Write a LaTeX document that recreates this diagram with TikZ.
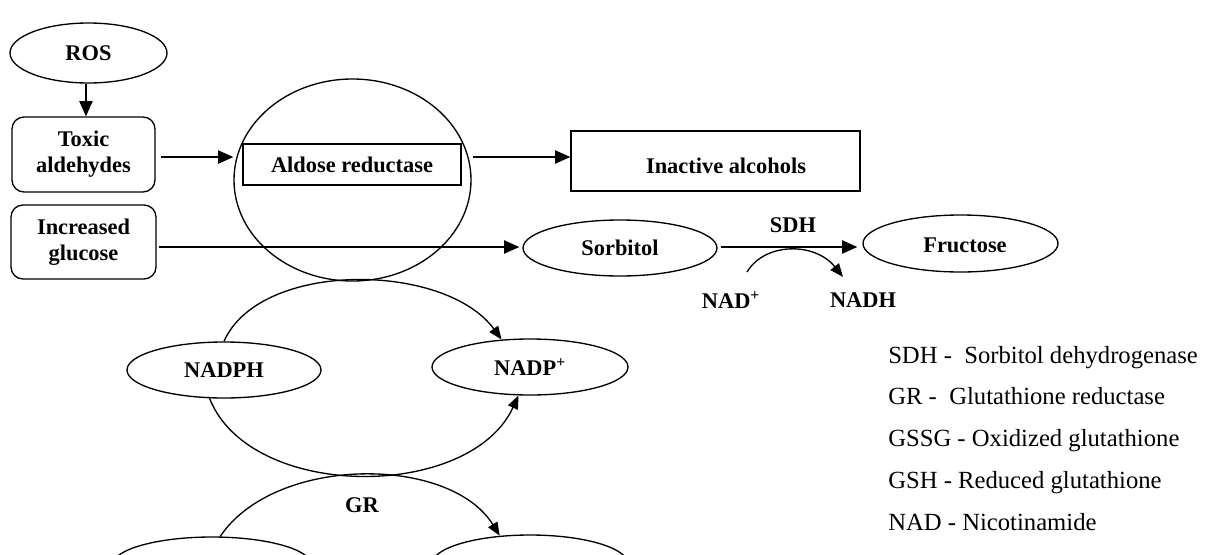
\documentclass[tikz,border=0pt]{standalone}
\usepackage{fontspec}
\setmainfont{Liberation Serif}
\usetikzlibrary{shapes.geometric,arrows.meta}
\begin{document}
\begin{tikzpicture}[x=0.75pt,y=-0.75pt,
  ln/.style={line width=1pt},
  lbl/.style={font=\fontsize{16.8}{19.5}\selectfont\bfseries, inner sep=0pt, align=center},
  leg/.style={font=\fontsize{18.5}{22}\selectfont, inner sep=0pt, anchor=base west},
  ell/.style={ellipse, draw, ln, inner sep=0pt, font=\fontsize{16.8}{19.5}\selectfont\bfseries},
  boxnode/.style={rectangle, draw, ln, inner sep=0pt, align=center, font=\fontsize{16.8}{19.5}\selectfont\bfseries},
  arr/.style={ln, -{Triangle[length=11.5pt,width=10pt]}},
  carr/.style={ln, -{Triangle[length=10pt,width=8pt]}}]
\useasboundingbox (0,0) rectangle (1214,554);
\clip (0,0) rectangle (1214,554);

% nodes
\node[ell, minimum width=117.75pt, minimum height=45pt] (ros) at (88.5,53) {ROS};
\node[boxnode, rounded corners=9pt, minimum width=107.25pt, minimum height=56.25pt] (toxic) at (83.5,154.5) {Toxic\\aldehydes};
\node[boxnode, rounded corners=9pt, minimum width=108.75pt, minimum height=55.5pt] (glucose) at (83.5,242) {Increased\\glucose};
\node[ellipse, draw, ln, inner sep=0pt, minimum width=177.75pt, minimum height=151.5pt] (big) at (352.5,180) {};
\node[boxnode, minimum width=163.5pt, minimum height=30.75pt] (aldose) at (352,164.5) {Aldose reductase};
\node[boxnode, minimum width=216.75pt, minimum height=45pt] (inactive) at (715.5,161) {};
\node[lbl] (inactivetxt) at (726,166) {Inactive alcohols};
\node[ell, minimum width=145.5pt, minimum height=42pt] (sorb) at (620,248) {Sorbitol};
\node[ell, minimum width=146.25pt, minimum height=42.75pt] (fruc) at (960.5,243.5) {};
\node[lbl] (fructxt) at (965,245) {Fructose};
\node[lbl] (sdh) at (793,225) {SDH};
\node[lbl] (nad) at (731,300) {NAD\textsuperscript{+}};
\node[lbl] (nadh) at (863,300) {NADH};
\node[ell, minimum width=145.5pt, minimum height=42pt] (nadph) at (224,370) {NADPH};
\node[ell, minimum width=147pt, minimum height=42pt] (nadp) at (530,367) {NADP\textsuperscript{+}};
\node[ell, minimum width=149.25pt, minimum height=42pt] (gssg) at (212,565) {};
\node[ell, minimum width=147pt, minimum height=43.5pt] (gsh) at (530,564) {};
\node[lbl] (gr) at (362,505) {GR};

\coordinate (nadstart) at (747,272);
\coordinate (nadhend) at (843,277);

% connectors
\draw[arr] ([xshift=-1.9pt]ros.south) -- ([xshift=-1.9pt]ros.south |- toxic.north);
\draw[arr] ([xshift=3.75pt,yshift=-1.9pt]toxic.east) -- ([yshift=-1.9pt]toxic.east -| big.west);
\draw[arr] ([xshift=0.75pt]big.east |- 0,157) -- (inactive.west |- 0,157);
\draw[arr] ([xshift=1.5pt]glucose.east |- 0,247) -- ([xshift=-2.25pt]sorb.west |- 0,247);
\draw[arr] ([xshift=2.25pt]sorb.east |- 0,247) -- ([xshift=-3.75pt]fruc.west |- 0,247);
\draw[carr] (nadstart) .. controls (765,242) and (815,242) .. (nadhend);

\draw[carr] (nadph.north) .. controls (260,260) and (445,262) .. (nadp.136);
\draw[carr] (nadph.243) .. controls (250,501) and (470,501) .. (nadp.248);
\draw[carr] (gssg.74) .. controls (275,455) and (450,455) .. (gsh.137);

% legend
\node[leg] (l1) at (888,363) {SDH -\ \ Sorbitol dehydrogenase};
\node[leg] (l2) at (888,404) {GR -\ \ Glutathione reductase};
\node[leg] (l3) at (888,446) {GSSG - Oxidized glutathione};
\node[leg] (l4) at (888,488) {GSH - Reduced glutathione};
\node[leg] (l5) at (888,530) {NAD - Nicotinamide};
\end{tikzpicture}
\end{document}
